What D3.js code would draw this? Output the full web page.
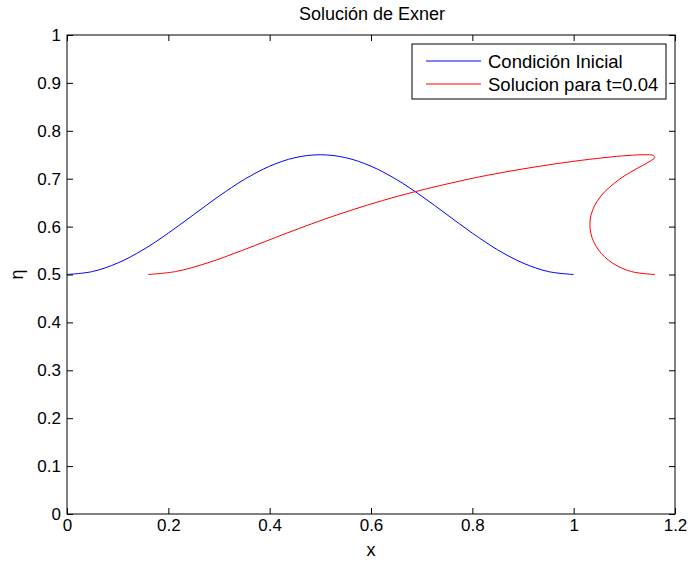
<!DOCTYPE html>
<html>
<head>
<meta charset="utf-8">
<script src="https://cdn.jsdelivr.net/npm/d3@7"></script>
<style>
  body { margin: 0; background: #fff; }
  svg { display: block; font-family: "Liberation Sans", Arial, Helvetica, sans-serif; }
</style>
</head>
<body>
<svg id="chart" width="692" height="565"></svg>
<script>
// ---- data ----
const titleText = "Solución de Exner";
const xLabelText = "x";
const yLabelText = "η";
const seriesNames = ["Condición Inicial", "Solucion para t=0.04"];

const xTicks = [0, 0.2, 0.4, 0.6, 0.8, 1, 1.2];
const xTickLabels = ["0", "0.2", "0.4", "0.6", "0.8", "1", "1.2"];
const yTicks = [0, 0.1, 0.2, 0.3, 0.4, 0.5, 0.6, 0.7, 0.8, 0.9, 1];
const yTickLabels = ["0", "0.1", "0.2", "0.3", "0.4", "0.5", "0.6", "0.7", "0.8", "0.9", "1"];

// initial condition (blue)
const initX = [0, 0.05, 0.1, 0.15, 0.2, 0.25, 0.3, 0.35, 0.4, 0.45, 0.5,
               0.55, 0.6, 0.65, 0.7, 0.75, 0.8, 0.85, 0.9, 0.95, 1.0];
const initEta = [0.5, 0.5061, 0.5239, 0.5515, 0.5864, 0.625, 0.6636, 0.6985, 0.7261, 0.7439, 0.75,
                 0.7439, 0.7261, 0.6985, 0.6636, 0.625, 0.5864, 0.5515, 0.5239, 0.5061, 0.5];

// solution at t = 0.04 (red), multivalued
const solX = [0.16, 0.2140, 0.2765, 0.3489, 0.4338, 0.5344, 0.6535, 0.7900, 0.8619, 0.9332, 1.0006,
              1.0599, 1.1072, 1.14, 1.1572, 1.1599, 1.1506, 1.1332, 1.1119, 1.0900, 1.0535,
              1.0344, 1.0338, 1.0489, 1.0765, 1.1140, 1.16];
const solEta = [0.5, 0.5061, 0.5239, 0.5515, 0.5864, 0.625, 0.6636, 0.6985, 0.7134, 0.7261, 0.7364,
                0.7439, 0.7485, 0.75, 0.7485, 0.7439, 0.7364, 0.7261, 0.7134, 0.6985, 0.6636,
                0.625, 0.5864, 0.5515, 0.5239, 0.5061, 0.5];

// ---- layout ----
const svg = d3.select("#chart");
const mLeft = 67, mRight = 675, mTop = 35, mBottom = 514;
const fontSize = 17;

const x = d3.scaleLinear().domain([0, 1.2]).range([mLeft, mRight]);
const y = d3.scaleLinear().domain([0, 1]).range([mBottom, mTop]);

svg.append("rect").attr("width", 692).attr("height", 565).attr("fill", "#fff");

// curves
const line = d3.line().x(d => x(d[0])).y(d => y(d[1])).curve(d3.curveCatmullRom.alpha(0.5));
const initPts = initX.map((v, i) => [v, initEta[i]]);
const solPts = solX.map((v, i) => [v, solEta[i]]);

svg.append("path").datum(initPts).attr("d", line)
  .attr("fill", "none").attr("stroke", "#0000ff").attr("stroke-width", 1);
svg.append("path").datum(solPts).attr("d", line)
  .attr("fill", "none").attr("stroke", "#ff0000").attr("stroke-width", 1);

// axes with inward ticks
const tick = 6;
function styleAxis(g) {
  g.select(".domain").remove();
  g.selectAll(".tick line").attr("stroke", "#000").attr("stroke-width", 1);
  g.selectAll(".tick text").attr("fill", "#000")
    .style("font-size", fontSize + "px").style("font-family", "Liberation Sans, Arial, sans-serif");
}
const xAxis = svg.append("g").attr("transform", `translate(0,${mBottom})`)
  .call(d3.axisBottom(x).tickValues(xTicks).tickFormat((d, i) => xTickLabels[i])
    .tickSizeInner(-tick).tickSizeOuter(0).tickPadding(5));
styleAxis(xAxis);
const xAxisTop = svg.append("g").attr("transform", `translate(0,${mTop})`)
  .call(d3.axisTop(x).tickValues(xTicks).tickFormat("").tickSizeInner(-tick).tickSizeOuter(0));
styleAxis(xAxisTop);
const yAxis = svg.append("g").attr("transform", `translate(${mLeft},0)`)
  .call(d3.axisLeft(y).tickValues(yTicks).tickFormat((d, i) => yTickLabels[i])
    .tickSizeInner(-tick).tickSizeOuter(0).tickPadding(6));
styleAxis(yAxis);
const yAxisRight = svg.append("g").attr("transform", `translate(${mRight},0)`)
  .call(d3.axisRight(y).tickValues(yTicks).tickFormat("").tickSizeInner(-tick).tickSizeOuter(0));
styleAxis(yAxisRight);

// box
svg.append("rect").attr("x", mLeft).attr("y", mTop)
  .attr("width", mRight - mLeft).attr("height", mBottom - mTop)
  .attr("fill", "none").attr("stroke", "#000").attr("stroke-width", 1);

// title & labels
svg.append("text").attr("x", (mLeft + mRight) / 2 + 1).attr("y", 20)
  .attr("text-anchor", "middle").style("font-size", "18px").text(titleText);
svg.append("text").attr("x", (mLeft + mRight) / 2).attr("y", 556)
  .attr("text-anchor", "middle").style("font-size", "18px").text(xLabelText);
svg.append("text").attr("transform", `translate(23,${(mTop + mBottom) / 2}) rotate(-90)`)
  .attr("text-anchor", "middle").style("font-size", "18px").text(yLabelText);

// legend
const lg = svg.append("g");
lg.append("rect").attr("x", 412).attr("y", 44).attr("width", 254).attr("height", 55)
  .attr("fill", "#fff").attr("stroke", "#000").attr("stroke-width", 1);
const legColors = ["#0000ff", "#ff0000"];
const legY = [61, 84];
seriesNames.forEach((name, i) => {
  lg.append("line").attr("x1", 426).attr("x2", 481).attr("y1", legY[i]).attr("y2", legY[i])
    .attr("stroke", legColors[i]).attr("stroke-width", 1);
  lg.append("text").attr("x", 488).attr("y", legY[i] + 6.5)
    .style("font-size", "18.5px").text(name);
});
</script>
</body>
</html>
